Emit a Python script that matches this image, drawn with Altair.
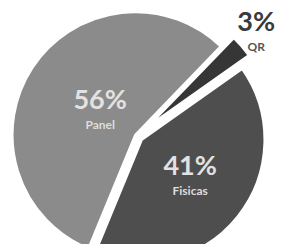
import math
import altair as alt
import pandas as pd

# ---- data ----
categories = ["QR", "Fisicas", "Panel"]
values = [3, 41, 56]
pct_labels = ["3%", "41%", "56%"]
slice_order = [1, 2, 3]

df = pd.DataFrame({
    "category": categories,
    "value": values,
    "pct": pct_labels,
    "order": slice_order,
})

# ---- styling ----
colors = ["#363636", "#4e4e4e", "#8b8b8b"]
explode = {"QR": 15, "Fisicas": 6, "Panel": 2}
label_r = {"QR": 157, "Fisicas": 68, "Panel": 44}
START = math.radians(44)
CX, CY = 129, 128
R = 123
FONT = "Lato"


def by_cat(d):
    return " : ".join(f"datum.category == '{k}' ? {v}" for k, v in d.items()) + " : 0"


base = (
    alt.Chart(df)
    .transform_joinaggregate(total="sum(value)")
    .transform_window(cum="sum(value)", sort=[alt.SortField("order")])
    .transform_calculate(
        ang=f"{START} + 2*PI*(datum.cum - datum.value/2)/datum.total",
        ex=by_cat(explode),
        lr=by_cat(label_r),
    )
    .transform_calculate(
        px=f"{CX} + datum.ex*sin(datum.ang)",
        py=f"{CY} - datum.ex*cos(datum.ang)",
        lx=f"{CX} + datum.lr*sin(datum.ang)",
        ly=f"{CY} - datum.lr*cos(datum.ang)",
    )
)

theta = alt.Theta("value:Q", stack=True,
                  scale=alt.Scale(range=[START, START + 2 * math.pi]))
order = alt.Order("order:Q")

arcs = base.mark_arc(outerRadius=R, stroke="white", strokeWidth=2.5).encode(
    theta=theta,
    order=order,
    color=alt.Color("category:N",
                    scale=alt.Scale(domain=categories, range=colors),
                    legend=None),
    x=alt.X("px:Q", scale=None),
    y=alt.Y("py:Q", scale=None),
)

is_qr = "datum.category == 'QR'"

pct = base.mark_text(font=FONT, fontSize=27, fontWeight="bold",
                     baseline="middle", align="center", dy=-11).encode(
    text="pct:N",
    fill=alt.condition(is_qr, alt.value("#3a3a3a"), alt.value("#e2e2e2")),
    x=alt.X("lx:Q", scale=None),
    y=alt.Y("ly:Q", scale=None),
)

names = base.mark_text(font=FONT, fontSize=12, fontWeight="bold",
                       baseline="middle", align="center", dy=13).encode(
    text="category:N",
    fill=alt.condition(is_qr, alt.value("#555555"), alt.value("#dddddd")),
    x=alt.X("lx:Q", scale=None),
    y=alt.Y("ly:Q", scale=None),
)

chart = (
    alt.layer(arcs, pct, names)
    .properties(width=270, height=236, padding=0,
                autosize=alt.AutoSizeParams(type="none"))
    .configure_view(stroke=None)
)

chart.save("out.html", embed_options={"renderer": "svg", "actions": False})
